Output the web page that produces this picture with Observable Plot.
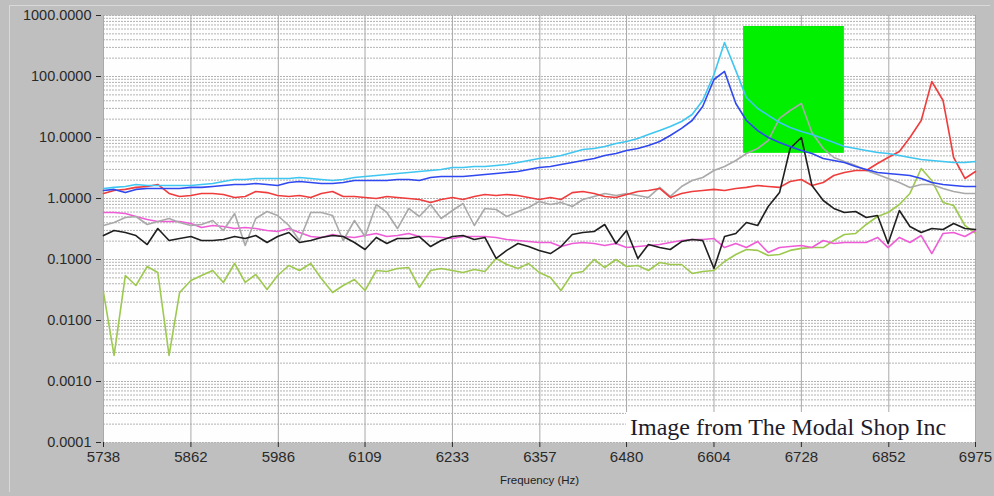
<!DOCTYPE html>
<html>
<head>
<meta charset="utf-8">
<script src="https://cdn.jsdelivr.net/npm/d3@7"></script>
<script src="https://cdn.jsdelivr.net/npm/@observablehq/plot@0.6"></script>
<style>
  html, body { margin: 0; padding: 0; background: #bfbfbf; }
  #wrap { position: relative; width: 994px; height: 496px; overflow: hidden; }
  #bevel { position: absolute; left: 9px; top: 5px; width: 980px; height: 486px;
           border-left: 1px solid #d9d9d9; border-top: 1px solid #d9d9d9; pointer-events: none; }
  #credit { position: absolute; left: 626px; top: 412px; width: 349px; height: 30px;
            background: #ffffff; font-family: "Liberation Serif", "Times New Roman", serif;
            font-size: 24px; line-height: 30px; color: #1c1c2a; white-space: nowrap;
            padding-left: 4px; box-sizing: border-box; }
</style>
</head>
<body>
<div id="wrap">
  <div id="bevel"></div>
  <div id="chart"></div>
  <div id="credit">Image from The Modal Shop Inc</div>
</div>
<script>
// Frequency grid (Hz) shared by all response curves
const freq = [5738,5753,5769,5784,5800,5815,5831,5846,5862,5877,5893,5908,5924,5939,5954,5970,5985,6001,6016,6032,
  6047,6063,6078,6094,6109,6125,6140,6155,6171,6186,6202,6217,6233,6248,6264,6279,6295,6310,6326,6341,
  6356,6372,6387,6403,6418,6434,6449,6465,6480,6496,6511,6527,6542,6558,6573,6588,6604,6619,6635,6650,
  6666,6681,6697,6712,6728,6743,6759,6774,6789,6805,6820,6836,6851,6867,6882,6898,6913,6929,6944,6960,6975];

// Response magnitudes, one array per measurement channel
const cyanMag = [1.46,1.52,1.57,1.70,1.63,1.63,1.63,1.63,1.63,1.70,1.76,1.90,2.05,2.05,2.13,2.13,2.13,2.13,2.21,2.13,
  2.05,1.97,2.05,2.21,2.30,2.38,2.47,2.57,2.67,2.77,2.88,2.99,3.22,3.22,3.35,3.35,3.48,3.61,3.89,4.20,
  4.53,4.70,5.07,5.68,6.36,6.60,7.12,7.97,8.60,9.63,11.2,13.0,15.2,18.3,23.8,40.4,108,361,125,45.3,
  29.9,23.0,17.6,14.6,12.5,11.2,9.63,8.28,7.12,6.60,6.12,5.68,5.47,5.07,4.70,4.36,4.20,4.04,3.89,3.89,4.04];

const blueMag = [1.35,1.41,1.25,1.41,1.46,1.46,1.46,1.46,1.52,1.52,1.57,1.63,1.70,1.70,1.76,1.70,1.63,1.83,1.90,1.83,
  1.76,1.76,1.83,1.97,1.97,1.97,1.97,2.05,2.05,1.97,2.21,2.30,2.30,2.30,2.38,2.47,2.57,2.67,2.77,2.99,
  3.22,3.35,3.61,3.89,4.20,4.53,5.07,5.47,6.12,6.60,7.39,8.60,10.8,14.1,19.0,32.2,89.3,121,36.1,19.0,
  13.0,10.0,8.28,7.12,6.12,5.47,4.53,4.20,3.89,3.35,2.99,2.67,2.57,2.47,2.38,2.13,1.83,1.70,1.63,1.57,1.57];

const redMag = [1.21,1.35,1.41,1.52,1.57,1.70,1.21,1.08,1.12,1.21,1.21,1.16,1.04,1.08,1.30,1.25,1.12,1.08,1.12,1.04,
  1.21,1.30,1.08,1.08,1.04,1.00,1.08,1.04,1.00,0.963,0.860,0.963,1.04,0.963,1.08,1.16,1.12,1.16,1.12,1.04,
  0.963,1.04,0.963,1.25,1.30,1.21,1.08,1.04,1.16,1.30,1.35,1.46,1.04,1.21,1.30,1.35,1.41,1.35,1.46,1.52,
  1.63,1.57,1.52,1.90,2.05,1.63,1.83,2.38,2.67,2.88,2.88,3.75,4.70,5.90,10.0,19.0,82.8,40.4,4.70,2.13,2.77];

const grayMag = [0.361,0.404,0.488,0.507,0.375,0.420,0.470,0.404,0.361,0.375,0.436,0.299,0.568,0.170,0.470,0.612,0.526,0.361,0.205,0.590,
  0.590,0.526,0.205,0.436,0.238,0.797,0.590,0.322,0.686,0.507,0.797,0.470,0.636,0.828,0.361,0.686,0.660,0.507,0.612,0.712,
  0.893,0.797,0.860,0.739,0.963,1.08,1.21,1.12,1.21,1.12,1.04,1.52,1.08,1.57,1.97,2.21,2.88,3.35,4.20,5.47,
  6.60,8.93,20.5,27.7,36.1,12.0,6.60,4.70,4.04,3.48,2.88,2.47,2.13,1.83,1.52,1.70,1.70,1.46,1.30,1.21,1.21];

const pinkMag = [0.590,0.590,0.568,0.507,0.453,0.420,0.420,0.420,0.389,0.335,0.361,0.348,0.322,0.335,0.322,0.299,0.288,0.322,0.277,0.238,
  0.230,0.257,0.238,0.230,0.247,0.267,0.238,0.247,0.267,0.238,0.238,0.230,0.221,0.238,0.238,0.238,0.230,0.213,0.205,0.197,
  0.190,0.190,0.163,0.183,0.190,0.183,0.170,0.183,0.157,0.163,0.170,0.176,0.190,0.205,0.213,0.213,0.221,0.157,0.183,0.157,
  0.197,0.130,0.157,0.163,0.170,0.157,0.205,0.183,0.190,0.190,0.190,0.230,0.157,0.230,0.190,0.247,0.125,0.267,0.277,0.238,0.299];

const blackMag = [0.247,0.299,0.277,0.247,0.176,0.322,0.205,0.221,0.238,0.205,0.205,0.213,0.238,0.221,0.247,0.190,0.238,0.277,0.190,0.205,
  0.230,0.247,0.238,0.190,0.146,0.230,0.183,0.221,0.221,0.238,0.163,0.205,0.238,0.247,0.213,0.230,0.104,0.141,0.183,0.163,
  0.141,0.125,0.163,0.257,0.277,0.288,0.375,0.183,0.299,0.104,0.176,0.157,0.146,0.197,0.213,0.205,0.0712,0.238,0.267,0.404,
  0.361,0.739,1.25,6.60,10.0,1.63,0.927,0.686,0.590,0.612,0.488,0.526,0.183,0.636,0.348,0.277,0.322,0.310,0.389,0.322,0.310];

const greenMag = [0.0288,0.00267,0.0547,0.0375,0.0768,0.0612,0.00267,0.0288,0.0453,0.0547,0.0660,0.0420,0.0860,0.0420,0.0568,0.0322,0.0547,0.0797,0.0660,0.0860,
  0.0488,0.0288,0.0375,0.0470,0.0310,0.0660,0.0636,0.0712,0.0739,0.0348,0.0660,0.0712,0.0660,0.0612,0.0686,0.0636,0.104,0.0828,0.0712,0.0860,
  0.0612,0.0507,0.0310,0.0590,0.0636,0.100,0.0739,0.100,0.0768,0.0797,0.0660,0.0893,0.0828,0.0828,0.0590,0.0636,0.0660,0.0927,0.121,0.146,
  0.141,0.116,0.121,0.141,0.152,0.157,0.157,0.205,0.257,0.267,0.375,0.507,0.590,0.797,1.21,3.10,1.97,0.860,0.768,0.361,0.267];

// Highlighted band (frequency span and magnitude span)
const bandFreq = [6646, 6789];
const bandMag = [5.5, 660];

// Axis ticks
const xTicks = [5738, 5862, 5986, 6109, 6233, 6357, 6480, 6604, 6728, 6852, 6975];
const yTicks = [0.0001, 0.001, 0.01, 0.1, 1, 10, 100, 1000];

// Log grid: every 1..9 multiple inside each decade
const yGrid = yTicks.slice(0, -1).flatMap(d => d3.range(1, 10).map(k => k * d)).concat([1000]);

// Channels in drawing order (later ones on top) with their trace colours
const series = [
  {mag: greenMag, color: "#9ec94f"},
  {mag: pinkMag,  color: "#ee5cd6"},
  {mag: grayMag,  color: "#a9a9a9"},
  {mag: redMag,   color: "#ef3c3c"},
  {mag: blackMag, color: "#1f1f1f"},
  {mag: blueMag,  color: "#2f48ef"},
  {mag: cyanMag,  color: "#3fc6f1"}
];

const band = [{x1: bandFreq[0], x2: bandFreq[1], y1: bandMag[0], y2: bandMag[1]}];

const chart = Plot.plot({
  width: 994,
  height: 496,
  marginLeft: 103,
  marginRight: 19,
  marginTop: 15,
  marginBottom: 54,
  style: {background: "#bfbfbf", fontFamily: "'Liberation Sans', Arial, sans-serif", color: "#2a2a2a"},
  x: {domain: [5738, 6975]},
  y: {type: "log", domain: [0.0001, 1000]},
  marks: [
    Plot.frame({fill: "#fefefe", stroke: null}),
    Plot.ruleY(yGrid, {stroke: "#b3b3b3", strokeWidth: 1, strokeDasharray: "2,1"}),
    Plot.ruleX(xTicks, {stroke: "#a9a9a9", strokeWidth: 1}),
    Plot.rect(band, {x1: "x1", x2: "x2", y1: "y1", y2: "y2", fill: "#00f000"}),
    ...series.map(s => Plot.line(s.mag, {x: (d, i) => freq[i], y: d => d, stroke: s.color, strokeWidth: 1.6})),
    Plot.axisY({ticks: yTicks, tickFormat: d3.format(".4f"), tickSize: 5, tickPadding: 5, dx: -2,
                fontSize: 14.5, label: null, color: "#2a2a2a"}),
    Plot.axisX({ticks: xTicks, tickFormat: d => String(d), tickSize: 5, tickPadding: 4,
                fontSize: 15, label: null, color: "#2a2a2a"}),
    Plot.text(["Frequency (Hz)"], {frameAnchor: "bottom", dy: 41, fontSize: 11.5, fill: "#222"})
  ]
});

document.getElementById("chart").appendChild(chart);
</script>
</body>
</html>
